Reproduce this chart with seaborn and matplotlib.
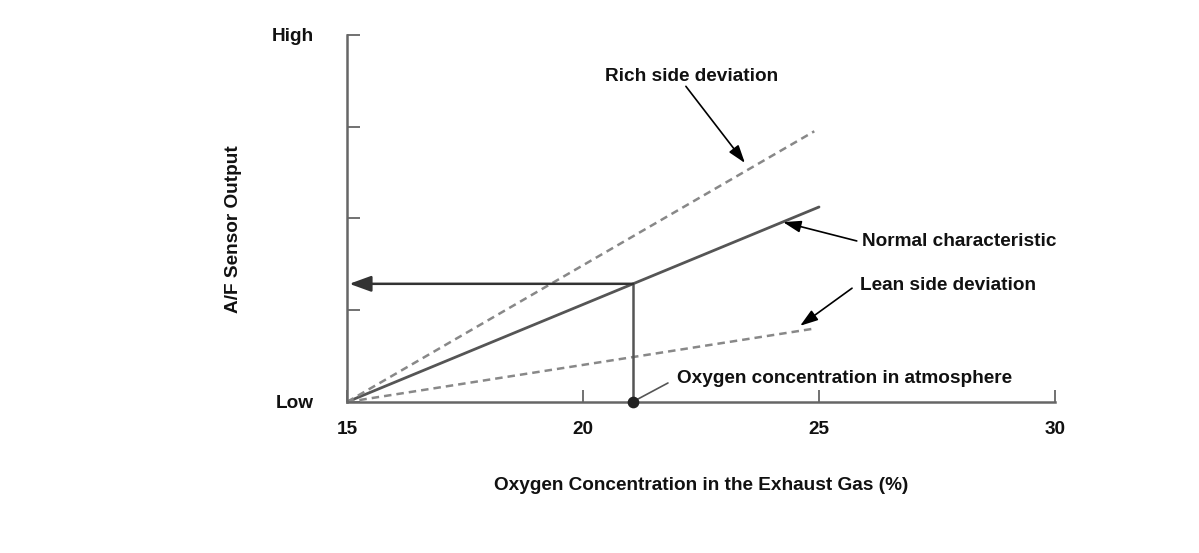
import matplotlib
matplotlib.use("Agg")
import matplotlib.pyplot as plt
import seaborn as sns
import pandas as pd

# ---- data ----
o2_x = [15, 25]
normal_y = [0, 2.125]
rich_x = [15, 24.9]
rich_y = [0, 2.95]
lean_x = [15, 24.9]
lean_y = [0, 0.80]
atmosphere_o2 = 21.06
x_ticks = [15, 20, 25, 30]
y_ticks = [0, 1, 2, 3, 4]
y_tick_labels = ["Low", "", "", "", "High"]

sns.set_theme(style="white")
plt.rcParams["font.family"] = ["Liberation Sans", "DejaVu Sans"]
plt.rcParams["font.weight"] = "bold"

FS = 13.7
TXT = "#111111"

fig = plt.figure(figsize=(11.99, 5.53), dpi=100)
ax = fig.add_axes([0.2894, 0.2731, 0.5905, 0.6637])

df_n = pd.DataFrame({"x": o2_x, "y": normal_y})
df_r = pd.DataFrame({"x": rich_x, "y": rich_y})
df_l = pd.DataFrame({"x": lean_x, "y": lean_y})
sns.lineplot(data=df_n, x="x", y="y", ax=ax, color="#555555", lw=2.0)
sns.lineplot(data=df_r, x="x", y="y", ax=ax, color="#888888", lw=1.8, linestyle=(0, (3, 2)))
sns.lineplot(data=df_l, x="x", y="y", ax=ax, color="#888888", lw=1.8, linestyle=(0, (3, 2)))

# atmosphere value on normal line
atm_y = normal_y[0] + (normal_y[1] - normal_y[0]) * (atmosphere_o2 - o2_x[0]) / (o2_x[1] - o2_x[0])
ax.plot([atmosphere_o2, atmosphere_o2], [0, atm_y], color="#555555", lw=1.8)
ax.annotate("", xy=(15.05, atm_y), xytext=(atmosphere_o2, atm_y),
            arrowprops=dict(arrowstyle="-|>,head_length=1.1,head_width=0.4",
                            color="#333333", lw=1.8, shrinkA=0, shrinkB=0))
ax.scatter([atmosphere_o2], [0], s=55, color="#222222", zorder=5, clip_on=False)

ax.set_xlim(15, 30)
ax.set_ylim(0, 4)
ax.set_xticks(x_ticks)
ax.set_xticklabels([str(t) for t in x_ticks])
ax.set_yticks(y_ticks)
ax.set_yticklabels(y_tick_labels)
ax.tick_params(axis="both", direction="in", length=9, width=1.3, color="#666666",
               labelsize=FS, labelcolor=TXT, bottom=True, left=True)
ax.tick_params(axis="x", pad=14)
ax.tick_params(axis="y", pad=24)
for s in ["top", "right"]:
    ax.spines[s].set_visible(False)
for s in ["left", "bottom"]:
    ax.spines[s].set_color("#666666")
    ax.spines[s].set_linewidth(1.8)

ax.set_xlabel("Oxygen Concentration in the Exhaust Gas (%)", fontsize=FS,
              fontweight="bold", color=TXT)
ax.xaxis.set_label_coords(0.5, -0.205)
ax.set_ylabel("A/F Sensor Output", fontsize=FS, fontweight="bold", color=TXT)
ax.yaxis.set_label_coords(-0.148, 0.47)

arrow_kw = dict(arrowstyle="-|>,head_length=0.9,head_width=0.3", color="black",
                lw=1.2, shrinkA=0, shrinkB=0)
# annotations: arrows
ax.annotate("", xy=(23.43, 2.605), xytext=(22.18, 3.44), arrowprops=arrow_kw)
ax.annotate("", xy=(24.24, 1.96), xytext=(25.80, 1.755), arrowprops=arrow_kw)
ax.annotate("", xy=(24.6, 0.83), xytext=(25.70, 1.24), arrowprops=arrow_kw)
ax.annotate("", xy=(21.12, 0.02), xytext=(21.80, 0.207),
            arrowprops=dict(arrowstyle="-", color="#555555", lw=1.2, shrinkA=0, shrinkB=0))
# annotation texts
ax.text(22.31, 3.55, "Rich side deviation", fontsize=FS, fontweight="bold", color=TXT,
        ha="center", va="center")
ax.text(25.91, 1.744, "Normal characteristic", fontsize=FS, fontweight="bold", color=TXT,
        ha="left", va="center")
ax.text(25.87, 1.264, "Lean side deviation", fontsize=FS, fontweight="bold", color=TXT,
        ha="left", va="center")
ax.text(21.99, 0.26, "Oxygen concentration in atmosphere", fontsize=FS, fontweight="bold",
        color=TXT, ha="left", va="center")

fig.savefig("out.png", dpi=100)
